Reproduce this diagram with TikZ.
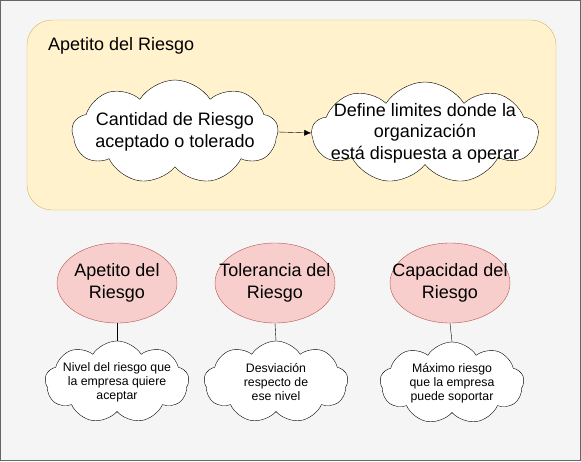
\documentclass[tikz,border=0pt]{standalone}
\usepackage{fontspec}
\setmainfont{Liberation Sans}
\usetikzlibrary{shapes.symbols,shapes.geometric,arrows.meta}
\definecolor{bggray}{HTML}{F5F5F5}
\definecolor{bgline}{HTML}{666666}
\definecolor{yelfill}{HTML}{FFF2CC}
\definecolor{yelline}{HTML}{D6B656}
\definecolor{redfill}{HTML}{F8CECC}
\definecolor{redline}{HTML}{B85450}
\begin{document}
\begin{tikzpicture}[x=1pt,y=-1pt,
  bigcloud/.style={cloud,cloud puffs=9,cloud puff arc=115,cloud ignores aspect,draw,fill=white,inner sep=0pt},
  smallcloud/.style={cloud,cloud puffs=9,cloud puff arc=115,cloud ignores aspect,draw,fill=white,inner sep=0pt,
    minimum width=144pt,minimum height=82pt},
  level/.style={ellipse,draw=redline,fill=redfill,minimum width=120pt,minimum height=80pt,inner sep=0pt},
  bigtext/.style={align=center,font=\fontsize{18}{21.5}\selectfont},
  smalltext/.style={align=center,font=\fontsize{12.3}{14}\selectfont}]
\useasboundingbox (0,0) rectangle (581,461);
\draw[draw=bgline,fill=bggray] (0.5,0.5) rectangle (580.5,460.5);
\draw[draw=yelline,fill=yelfill,rounded corners=25pt] (27,20) rectangle (556,210);
\node[anchor=west,inner sep=0pt,font=\fontsize{18}{21}\selectfont] (title) at (48,46) {Apetito del Riesgo};
% nubes de arriba
\node[bigcloud,minimum width=206pt,minimum height=104pt,
  label={[bigtext]center:Cantidad de Riesgo\\aceptado o tolerado}] (cant) at (175,132) {};
\node[bigcloud,minimum width=226pt,minimum height=102pt,
  label={[bigtext]center:Define limites donde la\\organización\\está dispuesta a operar}] (defi) at (425,133) {};
\draw[-{Latex[length=7pt,width=6pt]}] (cant.east) -- (defi.west);
% niveles
\node[level,label={[bigtext]center:Apetito del\\Riesgo}] (apet) at (117,283) {};
\node[level,label={[bigtext]center:Tolerancia del\\Riesgo}] (tole) at (275,283) {};
\node[level,label={[bigtext]center:Capacidad del\\Riesgo}] (capa) at (450,283) {};
\node[smallcloud,label={[smalltext]center:Nivel del riesgo que\\la empresa quiere\\aceptar}] (nive) at (117,382) {};
\node[smallcloud,label={[smalltext]center:Desviación\\respecto de\\ese nivel}] (desv) at (276,382) {};
\node[smallcloud,label={[smalltext]center:Máximo riesgo\\que la empresa\\puede soportar}] (maxi) at (452,383) {};
\draw (apet.south) -- (nive.north);
\draw (tole.south) -- (desv.north);
\draw (capa.south) -- (maxi.north);
\end{tikzpicture}
\end{document}
